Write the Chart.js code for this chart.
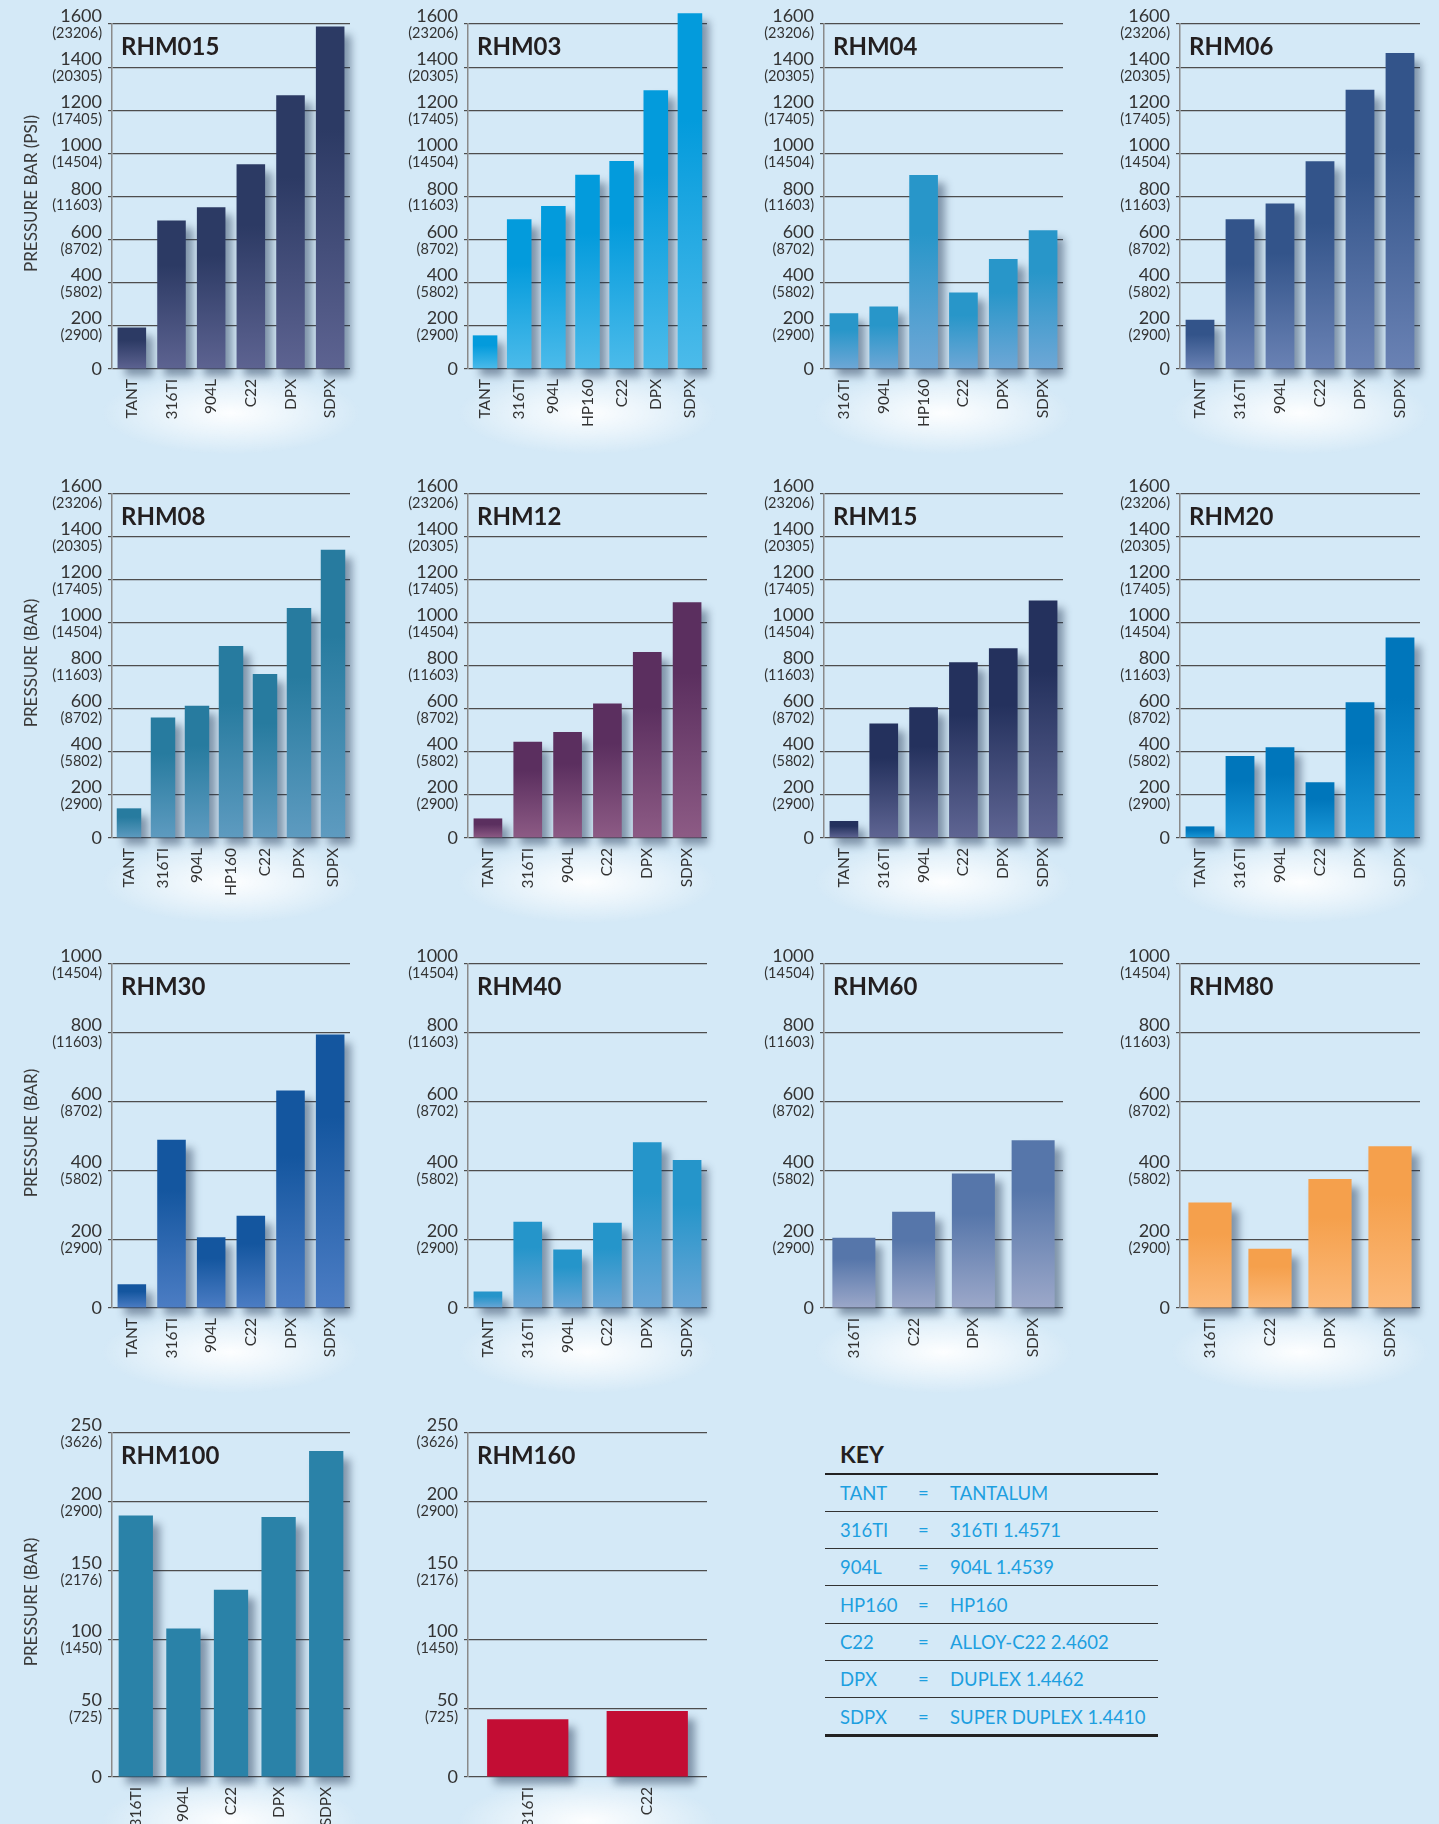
<!DOCTYPE html>
<html>
<head>
<meta charset="utf-8">
<title>RHM pressure ratings</title>
<script src="https://cdn.jsdelivr.net/npm/chart.js@4.4.1/dist/chart.umd.min.js"></script>
<style>
  html, body { margin: 0; padding: 0; }
  body {
    width: 1439px; height: 1824px; position: relative; overflow: hidden;
    background: #d4e9f7; font-family: Lato, "Open Sans", sans-serif;
  }
  canvas { position: absolute; }
  .keyhead { position: absolute; left: 840px; top: 1443px; font: bold 23px/23px Lato, sans-serif; color: #231f20; }
  .keyline { position: absolute; left: 825px; width: 333px; background: #333; }
  .keytxt { position: absolute; font: 18.5px/20px Lato, sans-serif; color: #1d9fe0; white-space: nowrap; }
</style>
</head>
<body>
<script>
// categories
var catsT6 = ['TANT', '316TI', '904L', 'C22', 'DPX', 'SDPX'];
var catsT7 = ['TANT', '316TI', '904L', 'HP160', 'C22', 'DPX', 'SDPX'];
var cats04 = ['316TI', '904L', 'HP160', 'C22', 'DPX', 'SDPX'];
var cats4 = ['316TI', 'C22', 'DPX', 'SDPX'];
var cats5 = ['316TI', '904L', 'C22', 'DPX', 'SDPX'];
var cats2 = ['316TI', 'C22'];

// max pressure in bar
var rhm015 = [192, 689, 750, 950, 1269, 1588];
var rhm03 = [156, 695, 756, 901, 965, 1293, 1650];
var rhm04 = [259, 290, 900, 355, 510, 643];
var rhm06 = [228, 694, 768, 963, 1295, 1465];
var rhm08 = [138, 561, 615, 893, 763, 1070, 1341];
var rhm12 = [91, 448, 493, 626, 865, 1096];
var rhm15 = [79, 533, 608, 817, 882, 1105];
var rhm20 = [54, 381, 422, 259, 631, 932];
var rhm30 = [69, 489, 206, 268, 632, 795];
var rhm40 = [48, 251, 170, 248, 482, 430];
var rhm60 = [204, 280, 391, 488];
var rhm80 = [307, 172, 375, 470];
var rhm100 = [190, 108, 136, 189, 237];
var rhm160 = [42, 48];

// axis ticks (bar) with psi in brackets
var ticks1600 = [0, 200, 400, 600, 800, 1000, 1200, 1400, 1600];
var psi1600 = ['', '(2900)', '(5802)', '(8702)', '(11603)', '(14504)', '(17405)', '(20305)', '(23206)'];
var ticks1000 = [0, 200, 400, 600, 800, 1000];
var psi1000 = ['', '(2900)', '(5802)', '(8702)', '(11603)', '(14504)'];
var ticks250 = [0, 50, 100, 150, 200, 250];
var psi250 = ['', '(725)', '(1450)', '(2176)', '(2900)', '(3626)'];

// key
var keyCodes = ['TANT', '316TI', '904L', 'HP160', 'C22', 'DPX', 'SDPX'];
var keyNames = ['TANTALUM', '316TI 1.4571', '904L 1.4539', 'HP160', 'ALLOY-C22 2.4602', 'DUPLEX 1.4462', 'SUPER DUPLEX 1.4410'];

var panels = [
  { name: 'RHM015', cats: catsT6, vals: rhm015, c1: '#2c3a64', c2: '#5d6391', ticks: ticks1600, psi: psi1600, row: 0, col: 0, ytitle: 'PRESSURE BAR (PSI)' },
  { name: 'RHM03', cats: catsT7, vals: rhm03, c1: '#039bdc', c2: '#4cbbea', ticks: ticks1600, psi: psi1600, row: 0, col: 1 },
  { name: 'RHM04', cats: cats04, vals: rhm04, c1: '#2896c9', c2: '#6ea7d6', ticks: ticks1600, psi: psi1600, row: 0, col: 2 },
  { name: 'RHM06', cats: catsT6, vals: rhm06, c1: '#33548a', c2: '#6a82b4', ticks: ticks1600, psi: psi1600, row: 0, col: 3 },
  { name: 'RHM08', cats: catsT7, vals: rhm08, c1: '#277b9f', c2: '#5e9bc0', ticks: ticks1600, psi: psi1600, row: 1, col: 0, ytitle: 'PRESSURE (BAR)' },
  { name: 'RHM12', cats: catsT6, vals: rhm12, c1: '#5b2f5f', c2: '#8d5b85', ticks: ticks1600, psi: psi1600, row: 1, col: 1 },
  { name: 'RHM15', cats: catsT6, vals: rhm15, c1: '#24315d', c2: '#5f6593', ticks: ticks1600, psi: psi1600, row: 1, col: 2 },
  { name: 'RHM20', cats: catsT6, vals: rhm20, c1: '#0076bb', c2: '#1a98d8', ticks: ticks1600, psi: psi1600, row: 1, col: 3 },
  { name: 'RHM30', cats: catsT6, vals: rhm30, c1: '#14569f', c2: '#4c7dc4', ticks: ticks1000, psi: psi1000, row: 2, col: 0, ytitle: 'PRESSURE (BAR)' },
  { name: 'RHM40', cats: catsT6, vals: rhm40, c1: '#2595ca', c2: '#6aa6d6', ticks: ticks1000, psi: psi1000, row: 2, col: 1 },
  { name: 'RHM60', cats: cats4, vals: rhm60, c1: '#5676aa', c2: '#9ca8c9', ticks: ticks1000, psi: psi1000, row: 2, col: 2 },
  { name: 'RHM80', cats: cats4, vals: rhm80, c1: '#f5a04c', c2: '#fbb97a', ticks: ticks1000, psi: psi1000, row: 2, col: 3 },
  { name: 'RHM100', cats: cats5, vals: rhm100, c1: '#2a82a8', c2: '#2a82a8', ticks: ticks250, psi: psi250, row: 3, col: 0, ytitle: 'PRESSURE (BAR)' },
  { name: 'RHM160', cats: cats2, vals: rhm160, c1: '#c30d34', c2: '#c30d34', ticks: ticks250, psi: psi250, row: 3, col: 1 }
];

// page grid
var colX = [0, 360, 720, 1080], colW = [360, 360, 360, 359];
var colL = [112, 108, 104, 100], colR = [350, 347, 343, 340];
var rowY = [0, 470, 940, 1400], rowH = [470, 470, 460, 424];
var rowT = [24, 24, 24, 33], rowB = [369, 368, 368, 377];
var XAXIS_H = 70;

function barFill(top, bottom) {
  return function(c) {
    var chart = c.chart, ys = chart.scales.y;
    if (!ys || c.raw == null || !chart.chartArea) return top;
    var y0 = ys.getPixelForValue(c.raw), y1 = ys.getPixelForValue(0);
    if (!isFinite(y0) || y1 - y0 < 1) return top;
    var g = chart.ctx.createLinearGradient(0, y0, 0, y1);
    g.addColorStop(0, top);
    g.addColorStop(0.3, top);
    g.addColorStop(1, bottom);
    return g;
  };
}

var panelDecor = {
  id: 'panelDecor',
  beforeDraw: function(chart) {
    var ctx = chart.ctx, a = chart.chartArea;
    // white glow under the category labels
    ctx.save();
    ctx.translate((a.left + a.right) / 2, a.bottom + 44);
    ctx.scale(1, 0.32);
    var g = ctx.createRadialGradient(0, 0, 0, 0, 0, 130);
    g.addColorStop(0, 'rgba(255,255,255,0.95)');
    g.addColorStop(0.5, 'rgba(255,255,255,0.5)');
    g.addColorStop(1, 'rgba(255,255,255,0)');
    ctx.fillStyle = g;
    ctx.beginPath();
    ctx.arc(0, 0, 130, 0, Math.PI * 2);
    ctx.fill();
    ctx.restore();
  },
  beforeDatasetsDraw: function(chart) {
    var ctx = chart.ctx;
    ctx.save();
    ctx.shadowColor = 'rgba(25,45,75,0.45)';
    ctx.shadowBlur = 8;
    ctx.shadowOffsetX = 7;
    ctx.shadowOffsetY = 8;
  },
  afterDatasetsDraw: function(chart) {
    chart.ctx.restore();
  },
  afterDraw: function(chart, args, o) {
    var ctx = chart.ctx, a = chart.chartArea, ys = chart.scales.y;
    var xr = a.left - 10;
    ctx.save();
    ctx.fillStyle = '#333';
    ctx.textAlign = 'right';
    o.ticks.forEach(function(v, i) {
      var py = ys.getPixelForValue(v);
      ctx.font = '18px Lato';
      if (v === 0) {
        ctx.textBaseline = 'middle';
        ctx.fillText('0', xr, py);
        return;
      }
      ctx.textBaseline = 'alphabetic';
      ctx.fillText(String(v), xr, py - 2);
      ctx.font = '14.5px Lato';
      ctx.textBaseline = 'top';
      ctx.fillText(o.psi[i], xr, py + 2);
    });
    // panel name
    ctx.textAlign = 'left';
    ctx.textBaseline = 'alphabetic';
    ctx.fillStyle = '#231f20';
    ctx.font = 'bold 24px Lato';
    ctx.fillText(o.name, a.left + 9, a.top + 31);
    // y axis title
    if (o.ytitle) {
      ctx.translate(32, (a.top + a.bottom) / 2 - 3);
      ctx.rotate(-Math.PI / 2);
      ctx.textAlign = 'center';
      ctx.textBaseline = 'middle';
      ctx.fillStyle = '#3a3a3a';
      ctx.font = '17px Lato';
      ctx.fillText(o.ytitle, 0, 0);
    }
    ctx.restore();
  }
};

function makePanel(p) {
  var W = colW[p.col], H = rowH[p.row];
  var cv = document.createElement('canvas');
  cv.width = W;
  cv.height = H;
  cv.style.left = colX[p.col] + 'px';
  cv.style.top = rowY[p.row] + 'px';
  document.body.appendChild(cv);

  var top = p.ticks[p.ticks.length - 1];
  new Chart(cv.getContext('2d'), {
    type: 'bar',
    data: {
      labels: p.cats,
      datasets: [{
        data: p.vals,
        backgroundColor: barFill(p.c1, p.c2),
        borderWidth: 0,
        barPercentage: p.cats.length === 2 ? 0.68 : 0.72,
        categoryPercentage: 1,
        clip: false
      }]
    },
    options: {
      responsive: false,
      animation: false,
      events: [],
      layout: {
        padding: {
          left: colL[p.col],
          right: W - colR[p.col],
          top: rowT[p.row],
          bottom: H - rowB[p.row] - XAXIS_H
        }
      },
      plugins: {
        legend: { display: false },
        tooltip: { enabled: false },
        panelDecor: { name: p.name, ticks: p.ticks, psi: p.psi, ytitle: p.ytitle || '' }
      },
      scales: {
        x: {
          grid: { display: false },
          border: { display: false },
          ticks: {
            autoSkip: false,
            minRotation: 90,
            maxRotation: 90,
            padding: 2,
            color: '#333',
            font: { family: 'Lato', size: 15.5 }
          },
          afterFit: function(s) { s.height = XAXIS_H; }
        },
        y: {
          min: 0,
          max: top,
          ticks: { display: false, stepSize: p.ticks[1] },
          grid: { color: '#4d4d4d', lineWidth: 1.2, tickLength: 4, drawTicks: true },
          border: { color: '#8a8a8a', width: 1.5 },
          afterFit: function(s) { s.width = 0; }
        }
      }
    },
    plugins: [panelDecor]
  });
}

panels.forEach(makePanel);

// key table
(function() {
  var head = document.createElement('div');
  head.className = 'keyhead';
  head.textContent = 'KEY';
  document.body.appendChild(head);

  var y0 = 1474, rh = 37.33;
  for (var i = 0; i <= keyCodes.length; i++) {
    var ln = document.createElement('div');
    ln.className = 'keyline';
    var h = i === 0 ? 2 : (i === keyCodes.length ? 3 : 1);
    ln.style.top = Math.round(y0 + i * rh - h / 2) + 'px';
    ln.style.height = h + 'px';
    if (i === keyCodes.length || i === 0) ln.style.background = '#222';
    document.body.appendChild(ln);
  }
  keyCodes.forEach(function(code, i) {
    var cy = Math.round(y0 + (i + 0.5) * rh - 10);
    [[code, 840], ['=', 918], [keyNames[i], 950]].forEach(function(t) {
      var d = document.createElement('div');
      d.className = 'keytxt';
      d.textContent = t[0];
      d.style.left = t[1] + 'px';
      d.style.top = cy + 'px';
      document.body.appendChild(d);
    });
  });
})();
</script>
</body>
</html>
